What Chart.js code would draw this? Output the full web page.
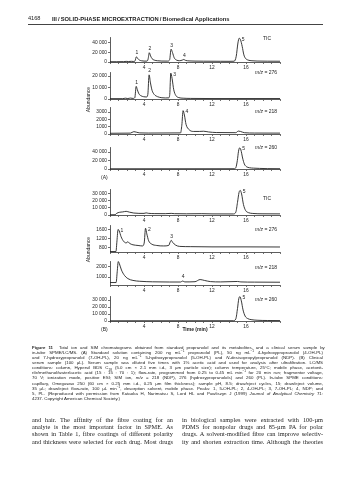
<!DOCTYPE html>
<html><head><meta charset="utf-8">
<script src="https://cdn.jsdelivr.net/npm/chart.js@4"></script>
<style>
html,body{margin:0;padding:0;background:#fff;}
body{width:356px;height:480px;position:relative;overflow:hidden;font-family:"Liberation Sans",Arial,sans-serif;color:#222;}
.t{position:absolute;white-space:nowrap;}
canvas{position:absolute;}
.serif{font-family:"Liberation Serif","Times New Roman",serif;}
</style></head><body>
<script>
// ---------------- DATA ----------------
const TIME_LABELS = [4, 8, 12, 16];
const TIME_MINOR = [0,1,2,3,4,5,6,7,8,9,10,11,12,13,14,15,16,17,18,19,20];

// (A) standards: [time (min), abundance]
const traceA_TIC = [[0,600],[0.8,600],[1.6,800],[1.9,1300],[2.2,1000],[2.5,1400],[2.8,1100],[2.95,2500],[3.1,11000],[3.25,7500],[3.45,4200],[3.7,2600],[4.0,1900],[4.35,1900],[4.48,6000],[4.62,19500],[4.78,12500],[4.95,7000],[5.2,4000],[5.6,2600],[6.1,2000],[6.8,1900],[7.02,5000],[7.18,27000],[7.35,20000],[7.55,9000],[7.8,4200],[8.2,2700],[8.5,4000],[8.68,5200],[8.9,3300],[9.3,2300],[10,1900],[11,1700],[12,1600],[13,1500],[14,1400],[14.6,1600],[14.85,12000],[15.05,40000],[15.2,50000],[15.35,47000],[15.55,33000],[15.75,15000],[15.95,7500],[16.25,4000],[16.7,2600],[17.3,2000],[18.5,1700],[20,1600]];
const traceA_276 = [[0,300],[1.5,300],[1.8,700],[2.1,400],[2.4,800],[2.7,500],[2.92,1200],[3.08,11000],[3.22,8000],[3.4,4500],[3.65,2800],[3.95,2000],[4.3,1800],[4.45,4000],[4.6,21000],[4.76,14000],[4.95,7500],[5.2,4000],[5.6,2000],[6.1,1100],[6.5,900],[6.9,1000],[7.03,4000],[7.15,22500],[7.3,18000],[7.5,8000],[7.75,3000],[8.1,1200],[8.6,700],[9.5,500],[12,400],[16,400],[20,400]];
const traceA_218 = [[0,100],[2.4,120],[2.8,320],[3.1,250],[3.5,150],[4.5,130],[8.3,150],[8.45,1200],[8.6,3200],[8.75,2600],[8.95,1300],[9.3,600],[9.8,350],[10.5,350],[11,380],[11.6,280],[12.5,200],[14.8,180],[15.1,400],[15.35,350],[15.8,180],[17,130],[20,120]];
const traceA_260 = [[0,500],[14.6,600],[14.8,3000],[14.98,20000],[15.12,42000],[15.25,50000],[15.4,45000],[15.6,26000],[15.8,12000],[16.05,5500],[16.4,3000],[16.9,2000],[17.6,1400],[18.5,900],[20,700]];

// (B) clinical serum sample
const traceB_TIC = [[0,300],[0.6,400],[0.8,2500],[1.1,3800],[1.5,4400],[1.9,5200],[2.3,4000],[2.8,2800],[3.4,2300],[4.0,2300],[4.25,3000],[4.5,2400],[5.2,2000],[6.5,1900],[7.2,2300],[7.6,1900],[9,1700],[10.8,1900],[12,1600],[14.5,1500],[14.8,4000],[15.0,18000],[15.18,32000],[15.32,35000],[15.48,30000],[15.7,15000],[15.95,6500],[16.3,3300],[16.8,2200],[18,1700],[20,1600]];
const traceB_276 = [[0,640],[0.7,640],[0.82,1100],[0.95,1590],[1.08,1530],[1.3,1280],[1.6,1080],[1.9,1010],[2.1,1060],[2.3,990],[2.7,930],[3.3,900],[3.8,880],[4.02,1000],[4.18,1640],[4.33,1400],[4.55,1100],[4.9,960],[5.5,900],[6.3,880],[6.9,900],[7.08,1050],[7.2,1120],[7.38,1030],[7.7,920],[8.2,860],[9.5,850],[12,840],[16,840],[20,835]];
const traceB_218 = [[0,480],[0.72,480],[0.85,1500],[0.97,2450],[1.1,2250],[1.35,1650],[1.7,1150],[2.1,850],[2.7,680],[3.5,600],[5,550],[7,530],[8.3,530],[8.55,620],[8.8,540],[10,560],[10.6,760],[11.1,680],[11.8,570],[13,540],[15,580],[15.4,540],[17,520],[20,510]];
const traceB_260 = [[0,300],[14.5,400],[14.8,3000],[15.0,18000],[15.15,32000],[15.28,35000],[15.45,29000],[15.65,16000],[15.9,7000],[16.2,3500],[16.6,2000],[17.3,1100],[18.5,700],[20,600]];

// peak labels: [label, time, abundance]
const peaksA_TIC = [['1',3.1,11000],['2',4.62,19500],['3',7.18,27000],['4',8.68,5200],['5',15.2,50000]];
const peaksA_276 = [['1',3.08,11000],['2',4.6,21000],['3',7.15,22500]];
const peaksA_218 = [['4',8.6,3200]];
const peaksA_260 = [['5',15.25,50000]];
const peaksB_TIC = [['5',15.32,35000]];
const peaksB_276 = [['1',0.95,1590],['2',4.18,1640],['3',7.2,1120]];
const peaksB_218 = [['4',8.55,620]];
const peaksB_260 = [['5',15.28,35000]];

// y tick values
const ticksA_TIC = [0,20000,40000];
const ticksA_276 = [0,10000,20000];
const ticksA_218 = [0,1000,2000,3000];
const ticksA_260 = [0,20000,40000];
const ticksB_TIC = [0,10000,20000,30000];
const ticksB_276 = [800,1200,1600];
const ticksB_218 = [1000,2000];
const ticksB_260 = [0,10000,20000,30000];

// ---------------- LAYOUT ----------------
const FONT = '"Liberation Sans", Arial, sans-serif';
Chart.defaults.font.family = FONT;
Chart.defaults.font.size = 4.8;
Chart.defaults.color = '#222';

const panels = [
 {name:'TIC', top:37, base:62, min:0, max:52600, ticks:ticksA_TIC, data:traceA_TIC, peaks:peaksA_TIC, place:'aaaar', lx:263, ly:38},
 {name:'<i>m/z</i> = 276', top:72, base:98.5, min:0, max:23500, ticks:ticksA_276, data:traceA_276, peaks:peaksA_276, place:'aar', lx:255, ly:72},
 {name:'<i>m/z</i> = 218', top:107, base:134, min:0, max:3700, ticks:ticksA_218, data:traceA_218, peaks:peaksA_218, place:'r', lx:255, ly:111},
 {name:'<i>m/z</i> = 260', top:147, base:168.5, min:0, max:52000, ticks:ticksA_260, data:traceA_260, peaks:peaksA_260, place:'r', lx:255, ly:147},
 {name:'TIC', top:189, base:215, min:0, max:37000, ticks:ticksB_TIC, data:traceB_TIC, peaks:peaksB_TIC, place:'r', lx:263, ly:198},
 {name:'<i>m/z</i> = 276', top:225, base:251.5, min:620, max:1780, ticks:ticksB_276, data:traceB_276, peaks:peaksB_276, place:'rra', lx:255, ly:229},
 {name:'<i>m/z</i> = 218', top:261, base:285, min:250, max:2500, ticks:ticksB_218, data:traceB_218, peaks:peaksB_218, place:'a', lx:255, ly:267},
 {name:'<i>m/z</i> = 260', top:296, base:321, min:0, max:36000, ticks:ticksB_260, data:traceB_260, peaks:peaksB_260, place:'r', lx:255, ly:299}
];

function fmt(v){ return v >= 10000 ? String(v).replace(/(\d)(?=(\d{3})+$)/g,'$1 ') : String(v); }

const peakLabelPlugin = {
  id:'peakLabels',
  afterDatasetsDraw(chart, args, opts){
    const ctx = chart.ctx, x = chart.scales.x, y = chart.scales.y;
    ctx.save();
    ctx.font = '5px ' + FONT;
    ctx.fillStyle = '#222';
    opts.items.forEach((p, i) => {
      const px = x.getPixelForValue(p[1]), py = y.getPixelForValue(p[2]);
      if (opts.place[i] === 'a') { ctx.textAlign='center'; ctx.textBaseline='bottom'; ctx.fillText(p[0], px + 0.5, py - 1.5); }
      else { ctx.textAlign='left'; ctx.textBaseline='middle'; ctx.fillText(p[0], px + 2.5, py + 1); }
    });
    ctx.restore();
  }
};

function text(html, x, y, fs, cls, extra){
  const d = document.createElement('div');
  d.className = 't ' + (cls || '');
  d.innerHTML = html;
  d.style.fontSize = fs + 'px';
  d.style.lineHeight = fs + 'px';
  d.style.left = x + 'px';
  d.style.top = (y - fs/2) + 'px';
  if (extra) Object.assign(d.style, extra);
  document.body.appendChild(d);
  return d;
}
function justify(d, target, last){
  let w = d.getBoundingClientRect().width;
  if (w > target) {
    const fs = parseFloat(d.style.fontSize) * target / w;
    d.style.fontSize = fs + 'px';
    w = d.getBoundingClientRect().width;
  }
  if (!last) {
    const n = (d.textContent.match(/ /g) || []).length;
    if (n) d.style.wordSpacing = ((target - w) / n) + 'px';
  }
}
function fitWidth(d, target){
  const w = d.getBoundingClientRect().width;
  d.style.fontSize = (parseFloat(d.style.fontSize) * target / w) + 'px';
}

const PAD_TOP = 10, AXIS_H = 10;
panels.forEach(p => {
  const cv = document.createElement('canvas');
  const h = Math.round((p.base - p.top) + PAD_TOP + AXIS_H);
  cv.width = 240; cv.height = h;
  cv.style.left = '50px'; cv.style.top = (p.top - PAD_TOP) + 'px';
  cv.style.width = '240px'; cv.style.height = h + 'px';
  document.body.appendChild(cv);
  new Chart(cv, {
    type:'line',
    data:{datasets:[{data:p.data.map(d => ({x:d[0], y:d[1]})), borderColor:'#222', borderWidth:0.9, pointRadius:0, fill:false, cubicInterpolationMode:'monotone', clip:false}]},
    options:{
      responsive:false, animation:false, devicePixelRatio:1,
      layout:{padding:{top:PAD_TOP, right:10, left:0, bottom:0}},
      plugins:{legend:{display:false}, tooltip:{enabled:false}, peakLabels:{items:p.peaks, place:p.place}},
      scales:{
        x:{type:'linear', min:0, max:20,
           afterFit:s => { s.height = AXIS_H; },
           afterBuildTicks:s => { s.ticks = TIME_MINOR.map(v => ({value:v})); },
           ticks:{autoSkip:false, maxRotation:0, padding:1, callback:v => TIME_LABELS.includes(v) ? String(v) : ''},
           grid:{drawOnChartArea:false, tickLength:2, color:'#333', lineWidth:0.7},
           border:{color:'#333', width:0.8}},
        y:{min:p.min, max:p.max,
           afterFit:s => { s.width = 60; },
           afterBuildTicks:s => { s.ticks = p.ticks.map(v => ({value:v})); },
           ticks:{autoSkip:false, padding:1, callback:v => fmt(v)},
           grid:{drawOnChartArea:false, tickLength:2, color:'#333', lineWidth:0.7},
           border:{color:'#333', width:0.8}}
      }
    },
    plugins:[peakLabelPlugin]
  });
  text(p.name, p.lx, p.ly, 5);
});

// header
text('4168', 28, 19, 5.6);
const hd = text('III\u2009/\u2009SOLID-PHASE MICROEXTRACTION\u2009/\u2009Biomedical Applications', 52, 19, 5, '', {fontWeight:'bold'});
fitWidth(hd, 178);
const rule = document.createElement('div');
Object.assign(rule.style, {position:'absolute', left:'28px', top:'24px', width:'295px', height:'1px', background:'#444'});
document.body.appendChild(rule);

// axis captions
text('Abundance', 88, 99, 5, '', {transform:'translate(-50%,0) rotate(-90deg)'});
text('Abundance', 88, 249, 5, '', {transform:'translate(-50%,0) rotate(-90deg)'});
text('(A)', 101, 177, 5);
text('(B)', 101, 329, 5);
text('Time (min)', 195, 329, 5, '', {fontWeight:'bold', transform:'translate(-50%,0)'});

// figure caption
const caption = [
 '<b>Figure 11</b>&nbsp; Total ion and SIM chromatograms obtained from standard propranolol and its metabolites, and a clinical serum sample by',
 'in-tube SPME/LC/MS. (A) Standard solution containing 200 ng mL<sup>\u22121</sup> propranolol (PL), 50 ng mL<sup>\u22121</sup> 4-hydroxypropranolol (4-OH-PL)',
 'and 7-hydroxypropranolol (7-OH-PL), 20 ng mL<sup>\u22121</sup> 5-hydroxypropranolol (5-OH-PL) and <i>N</i>-desisopropylpropranolol (NDP). (B) Clinical',
 'serum sample (100 \u00b5L). Serum sample was diluted five times with 1% acetic acid and used for analysis after ultrafiltration. LC/MS',
 'conditions: column, Hypersil BDS C<sub>18</sub> (5.0 cm \u00d7 2.1 mm i.d., 3 \u00b5m particle size); column temperature, 25\u00b0C; mobile phase, acetonit-',
 'rile/methanol/water/acetic acid (15 : 15 : 70 : 1); flow-rate, programmed from 0.25 to 0.45 mL min<sup>\u22121</sup> for 20 min run; fragmentor voltage,',
 '70 V; ionization mode, positive ESI; SIM ion, <i>m/z</i> = 218 (NDP), 276 (hydroxypropranolols) and 260 (PL). In-tube SPME conditions:',
 'capillary, Omegawax 250 (60 cm \u00d7 0.25 mm i.d., 0.25 \u00b5m film thickness); sample pH, 8.5; draw/eject cycles, 15; draw/eject volume,',
 '35 \u00b5L; draw/eject flow-rate, 100 \u00b5L min<sup>\u22121</sup>, desorption solvent, mobile phase. Peaks: 1, 5-OH-PL; 2, 4-OH-PL; 3, 7-OH-PL; 4, NDP; and',
 '5, PL. (Reproduced with permission from Kataoka H, Narimatsu S, Lord HL and Pawliszyn J (1999) <i>Journal of Analytical Chemistry</i> 71:',
 '4237. Copyright American Chemical Society.)'
];
caption.forEach((c, i) => {
  const d = text(c, 32, 348 + i * 5.1, 4.4, '', {});
  d.querySelectorAll('sup,sub').forEach(s => { s.style.fontSize = '70%'; s.style.lineHeight = '0'; });
  justify(d, 291, i === caption.length - 1);
});

// body text (two columns)
const bodyLeft = ['and hair. The affinity of the fibre coating for an','analyte is the most important factor in SPME. As','shown in Table 1, fibre coatings of different polarity','and thickness were selected for each drug. Most drugs'];
const bodyRight = ['in biological samples were extracted with 100-\u00b5m','PDMS for nonpolar drugs and 85-\u00b5m PA for polar','drugs. A solvent-modified fibre can improve selectiv-','ity and shorten extraction time. Although the theories'];
bodyLeft.forEach((s, i) => justify(text(s, 32, 420 + i * 7.3, 6.3, 'serif'), 141, false));
bodyRight.forEach((s, i) => justify(text(s, 182, 420 + i * 7.3, 6.3, 'serif'), 141, false));
</script>
</body></html>
